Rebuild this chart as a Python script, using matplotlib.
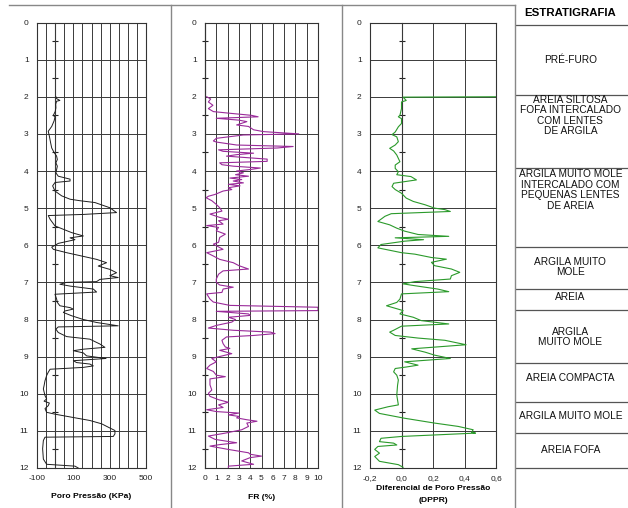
import numpy as np
import matplotlib
matplotlib.use('Agg')
import matplotlib.pyplot as plt
from matplotlib.lines import Line2D
from matplotlib.ticker import FuncFormatter

plt.rcParams['font.family'] = ['Liberation Sans', 'DejaVu Sans']

# ensaio CPTU: profundidade (m) x leituras
u_depth = [2.00, 2.05, 2.10, 2.12, 2.2, 2.3, 2.4, 2.5, 2.55, 2.65, 2.8, 2.93, 3.06,
           3.24, 3.38, 3.5, 3.6, 3.69, 3.78, 3.87, 4.05, 4.14, 4.22, 4.27, 4.31,
           4.4, 4.54, 4.67, 4.76, 4.8, 4.85, 4.99, 5.12, 5.17, 5.2, 5.3, 5.48,
           5.57, 5.66, 5.75, 5.8, 5.85, 5.9, 5.95, 6.0, 6.05, 6.11, 6.2, 6.3,
           6.38, 6.47, 6.56, 6.6, 6.65, 6.74, 6.82, 6.87, 6.92, 6.98, 7.0, 7.05,
           7.1, 7.18, 7.26, 7.32, 7.45, 7.54, 7.63, 7.68, 7.72, 7.77, 7.81, 7.9,
           8.0, 8.08, 8.17, 8.2, 8.26, 8.35, 8.46, 8.53, 8.66, 8.75, 8.8, 8.84,
           8.9, 8.98, 9.05, 9.11, 9.16, 9.2, 9.25, 9.29, 9.34, 9.42, 9.51, 9.65,
           9.78, 9.87, 10.05, 10.14, 10.2, 10.25, 10.32, 10.4, 10.5, 10.55, 10.64,
           10.72, 10.81, 10.9, 10.99, 11.08, 11.15, 11.17, 11.26, 11.48, 11.76,
           11.9, 11.95, 12.0]
u_kpa = [4, 8, 26, 8, 3, 4, 0, -10, -1, -6, -19, -38, -32,
         -25, -19, -6, 8, 12, 4, 12, 4, 17, 82, 82, -1,
         -14, -1, 36, 82, 136, 219, 301, 338, 155, -38, -28, -1,
         45, 91, 155, 82, 109, 63, 17, 0, -19, -10, 63, 155,
         228, 283, 237, 265, 301, 338, 301, 347, 246, 228, 63, 26,
         82, 210, 228, -1, 8, 12, 26, 82, 100, 54, 45, 91,
         155, 228, 347, 17, 4, 17, 63, 191, 246, 274, 155, 100,
         155, 173, 280, 100, 118, 191, 210, 155, -28, -38, -47, -56,
         -61, -65, -56, -47, -61, -32, -38, -56, -47, -1, 100,
         191, 256, 292, 329, 329, 320, -56, -65, -69, -65,
         -47, 109, 127]

fr_depth = [2.0, 2.06, 2.14, 2.23, 2.32, 2.4, 2.45, 2.5, 2.54, 2.58, 2.63, 2.67,
            2.76, 2.8, 2.89, 2.94, 3.0, 3.03, 3.12, 3.19, 3.22, 3.3, 3.34, 3.38,
            3.43, 3.47, 3.52, 3.56, 3.6, 3.68, 3.74, 3.78, 3.83, 3.87, 3.92, 3.96,
            4.0, 4.05, 4.1, 4.14, 4.19, 4.23, 4.27, 4.32, 4.36, 4.4, 4.45, 4.5,
            4.54, 4.59, 4.63, 4.68, 4.72, 4.8, 4.9, 4.99, 5.08, 5.16, 5.25, 5.3,
            5.34, 5.43, 5.47, 5.52, 5.61, 5.7, 5.79, 5.92, 5.97, 6.11, 6.2, 6.29,
            6.38, 6.47, 6.55, 6.64, 6.69, 6.78, 6.91, 7.0, 7.07, 7.13, 7.18, 7.27,
            7.31, 7.45, 7.53, 7.62, 7.67, 7.76, 7.78, 7.85, 7.89, 7.94, 8.0, 8.07,
            8.16, 8.23, 8.29, 8.34, 8.38, 8.43, 8.47, 8.56, 8.65, 8.74, 8.78, 8.83,
            8.92, 8.96, 9.05, 9.14, 9.23, 9.32, 9.4, 9.5, 9.54, 9.6, 9.76, 9.9,
            9.99, 10.07, 10.16, 10.23, 10.3, 10.37, 10.43, 10.48, 10.52, 10.57,
            10.61, 10.65, 10.7, 10.74, 10.79, 10.88, 10.97, 11.06, 11.14, 11.23,
            11.32, 11.37, 11.41, 11.5, 11.59, 11.63, 11.68, 11.72, 11.81, 11.9,
            11.95, 12.0]
fr_pct = [0.15, 0.5, 0.3, 0.7, 0.3, 0.74, 2.37, 4.1, 4.7, 1.0, 3.0, 3.7,
          2.8, 3.85, 4.3, 5.2, 8.3, 3.4, 1.0, 0.74, 1.0, 2.8, 7.8, 6.4,
          1.2, 1.6, 4.3, 2.8, 1.9, 5.5, 5.5, 1.3, 1.5, 2.5, 4.9, 4.0,
          2.8, 3.4, 2.7, 3.85, 2.2, 3.25, 2.5, 3.4, 2.07, 3.1, 2.07, 2.37,
          1.6, 1.2, 0.9, 0.3, 0.1, 0.6, 1.0, 1.3, 1.5, 0.44, 1.3, 2.07,
          1.2, 1.6, 0.15, 1.2, 1.0, 1.8, 1.3, 1.2, 0.74, 1.6, 0.15, 0.74,
          1.3, 2.5, 3.0, 3.85, 1.6, 1.2, 1.0, 1.0, 1.3, 2.5, 1.6, 1.5,
          0.15, 0.44, 0.74, 2.2, 10.0, 10.0, 1.0, 3.85, 4.0, 2.07, 2.7, 2.37,
          1.0, 0.3, 2.5, 5.8, 6.2, 4.3, 1.9, 1.5, 1.6, 1.8, 2.2, 1.3,
          2.37, 1.8, 0.6, 1.0, 0.44, 0.15, 0.74, 1.0, 1.8, 0.44, 0.44, 0.6,
          0.3, 0.44, 1.2, 2.07, 1.2, 1.6, 0.15, 1.0, 3.0, 2.07,
          3.0, 2.8, 3.7, 4.6, 3.7, 3.85, 3.25, 1.8, 0.3, 0.9,
          2.8, 1.3, 0.44, 2.07, 3.85, 4.0, 5.0, 4.0, 3.25, 4.3,
          2.07, 2.07]

dppr_depth = [2.0, 2.01, 2.1, 2.14, 2.32, 2.5, 2.54, 2.59, 2.72, 2.81, 2.95, 3.02,
              3.08, 3.21, 3.3, 3.39, 3.46, 3.57, 3.66, 3.75, 3.84, 3.93, 4.02,
              4.1, 4.15, 4.24, 4.33, 4.42, 4.5, 4.6, 4.73, 4.82, 4.91, 5.0, 5.04,
              5.09, 5.15, 5.22, 5.36, 5.45, 5.54, 5.62, 5.71, 5.76, 5.8, 5.85,
              5.89, 5.98, 6.07, 6.2, 6.24, 6.33, 6.375, 6.46, 6.55, 6.64, 6.73,
              6.82, 6.91, 6.98, 7.04, 7.09, 7.18, 7.25, 7.31, 7.45, 7.54, 7.63,
              7.71, 7.76, 7.85, 7.94, 8.03, 8.12, 8.18, 8.29, 8.34, 8.43, 8.5,
              8.56, 8.68, 8.79, 8.88, 8.96, 9.05, 9.14, 9.23, 9.28, 9.32, 9.41,
              9.5, 9.63, 9.77, 10.04, 10.3, 10.35, 10.44, 10.53, 10.66, 10.79,
              10.88, 10.97, 11.04, 11.06, 11.11, 11.15, 11.2, 11.29, 11.33, 11.38,
              11.42, 11.5, 11.6, 11.69, 11.82, 11.91, 11.98]
dppr = [0.62, 0.01, 0.03, 0.0, 0.0, -0.01, -0.02, 0.0, 0.0, -0.02, -0.04, -0.06,
        -0.03, -0.02, -0.04, -0.075, -0.05, -0.03, -0.02, -0.01, -0.04, -0.04, -0.02,
        -0.03, 0.06, 0.095, -0.05, -0.06, -0.04, 0.0, 0.03, 0.075, 0.15, 0.21, 0.275,
        0.31, -0.065, -0.105, -0.15, -0.075, -0.03, 0.02, 0.105, 0.3, -0.04, 0.14,
        0.02, -0.13, -0.15, 0.0, 0.085, 0.19, 0.285, 0.19, 0.21, 0.317, 0.37,
        0.317, 0.31, 0.085, 0.01, 0.085, 0.23, 0.3, 0.0, -0.01, -0.03, -0.095,
        -0.03, 0.01, -0.01, 0.075, 0.125, 0.3, 0.0, -0.05, -0.075, -0.04, 0.105,
        0.275, 0.41, 0.065, 0.15, 0.21, 0.31, 0.02, 0.105, 0.03, -0.04, -0.05,
        -0.03, -0.02, -0.025, -0.03, -0.02, -0.085, -0.17, -0.14, 0.02, 0.21,
        0.36, 0.455, 0.445, 0.47, 0.21, 0.0, -0.13, -0.14, -0.05, -0.03,
        -0.15, -0.17, -0.14, -0.17, -0.14, -0.02, 0.01]

# estratigrafia
layer_bounds = [0.07, 1.95, 3.92, 6.05, 7.18, 7.74, 9.17, 10.22, 11.06, 12.0]
layer_names = ['PRÉ-FURO',
               'AREIA SILTOSA\nFOFA INTERCALADO\nCOM LENTES\nDE ARGILA',
               'ARGILA MUITO MOLE\nINTERCALADO COM\nPEQUENAS LENTES\nDE AREIA',
               'ARGILA MUITO\nMOLE',
               'AREIA',
               'ARGILA\nMUITO MOLE',
               'AREIA COMPACTA',
               'ARGILA MUITO MOLE',
               'AREIA FOFA']
label_depths = [1.01, 2.5, 4.51, 6.59, 7.39, 8.47, 9.58, 10.6, 11.52]

W, H = 628.0, 508.0
fig = plt.figure(figsize=(6.28, 5.08), dpi=100)


def box(x0, x1, y0=22.5, y1=468.0):
    return [x0 / W, 1 - y1 / H, (x1 - x0) / W, (y1 - y0) / H]


def depth_panel(rect, xlim, major, minor, zero_loc, fmt, xlabel, labelpad):
    ax = fig.add_axes(rect)
    ax.set_xlim(*xlim)
    ax.set_ylim(12, 0)
    ax.set_yticks(range(13))
    ax.set_xticks(major)
    if minor is not None:
        ax.set_xticks(minor, minor=True)
    ax.xaxis.set_major_formatter(FuncFormatter(fmt))
    ax.grid(True, which='both', color='#3a3a3a', lw=0.7)
    ax.tick_params(which='both', length=0, labelsize=6, colors='#222222')
    ax.tick_params(axis='y', pad=6)
    ax.tick_params(axis='x', pad=5)
    for sp in ax.spines.values():
        sp.set_color('#333333')
        sp.set_linewidth(0.8)
    ax.set_xlabel(xlabel, fontsize=6.1, fontweight='bold', labelpad=labelpad,
                  linespacing=1.9)
    # eixo auxiliar no zero, com marcas a cada meio metro
    sec = ax.secondary_yaxis(zero_loc)
    sec.set_yticks(np.arange(0.5, 12, 1.0))
    sec.tick_params(direction='inout', length=4, width=0.8, labelleft=False,
                    color='#222222')
    sec.spines['left'].set_color('#222222')
    sec.spines['left'].set_linewidth(0.8)
    return ax


ax1 = depth_panel(box(37, 146), (-100, 500), [-100, 100, 300, 500],
                  np.arange(-100, 501, 50), 1 / 6,
                  lambda v, p: '%d' % v, 'Poro Pressão (KPa)', 8)
ax1.plot(u_kpa, u_depth, color='#1e1e1e', lw=0.7)

ax2 = depth_panel(box(205, 318), (0, 10), np.arange(0, 11, 1), None, 0,
                  lambda v, p: '%d' % v, 'FR (%)', 9)
ax2.plot(fr_pct, fr_depth, color='#9a2a9a', lw=0.8)

ax3 = depth_panel(box(370, 496), (-0.2, 0.6), np.arange(-0.2, 0.61, 0.2), None,
                  0.25, lambda v, p: ('%.1f' % v).replace('-0.0', '0.0').replace('.', ','),
                  'Diferencial de Poro Pressão\n(DPPR)', 2.5)
ax3.plot(dppr, dppr_depth, color='#2b9a2b', lw=0.8)

# coluna estratigrafica
tab = fig.add_axes([515 / W, 0, 113 / W, 1])
tab.set_xlim(0, 1)
tab.set_ylim((H - 22.5) / 37.125, -22.5 / 37.125)
tab.axis('off')
tab.hlines(layer_bounds, 0, 1, color='#555555', lw=0.9)
tab.text(0.49, -0.26, 'ESTRATIGRAFIA', ha='center', va='center',
         fontsize=8.2, fontweight='bold')
for name, d in zip(layer_names, label_depths):
    tab.text(0.49, d, name, ha='center', va='center', fontsize=7.3,
             linespacing=1.05, color='#111111')

# bordas da tabela
for x in (171, 342, 515):
    fig.add_artist(Line2D([x / W, x / W], [0, 1 - 5 / H], color='#888888', lw=1.0))
fig.add_artist(Line2D([9 / W, 515 / W], [1 - 5 / H, 1 - 5 / H], color='#888888', lw=1.0))

fig.savefig('out.png', dpi=100)
